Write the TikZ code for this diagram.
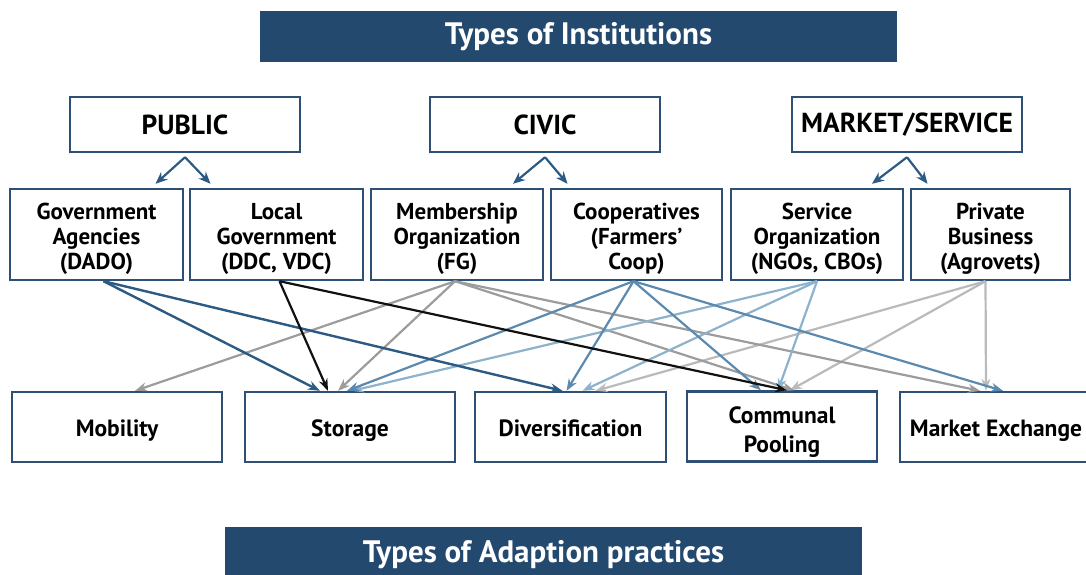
\documentclass[tikz,border=0pt]{standalone}
\usepackage{fontspec}
\setmainfont{PT Sans}
\usetikzlibrary{arrows.meta}
\definecolor{navy}{HTML}{24496E}
\definecolor{boxline}{HTML}{2E5075}
\definecolor{cdark}{HTML}{2C5A82}
\definecolor{cmid}{HTML}{5B8AAE}
\definecolor{clight}{HTML}{8DB2CC}
\definecolor{cgray}{HTML}{9C9C9C}
\definecolor{clgray}{HTML}{BABABA}
\definecolor{cblack}{HTML}{111111}
\begin{document}
\begin{tikzpicture}[x=1pt,y=-1pt,
  banner/.style={fill=navy, draw=none, text=white, font=\fontsize{31}{34}\selectfont\bfseries,
    minimum width=637pt, minimum height=51pt, inner sep=0pt},
  catbox/.style={draw=boxline, line width=2.4pt, fill=white, font=\fontsize{27.5}{30}\selectfont\bfseries,
    minimum width=230pt, minimum height=55pt, inner sep=0pt},
  instbox/.style={draw=boxline, line width=2.4pt, fill=white, minimum height=91pt, inner sep=0pt,
    label={[font=\fontsize{23}{25}\selectfont\bfseries, align=center, inner sep=0pt, yshift=-4.5pt]center:#1}},
  practbox/.style={draw=boxline, line width=2.4pt, fill=white, minimum height=70pt, inner sep=0pt,
    label={[font=\fontsize{23.5}{29}\selectfont\bfseries, align=center, inner sep=0pt, yshift=-4pt]center:\strut #1}},
  branch/.style={draw=cdark, line width=2.2pt, -{Stealth[length=12pt,width=10pt]}},
  link/.style={line width=2.2pt, -{Stealth[length=12pt,width=9pt]}},
]
\useasboundingbox (0,0) rectangle (1086,574);

% banners
\node[banner] (top) at (578.5,36.5) {Types of Institutions};
\node[banner, minimum height=56pt] (bot) at (543.5,555) {Types of Adaption practices};

% categories
\node[catbox] (pub) at (185,124.5) {PUBLIC};
\node[catbox] (civ) at (545,124.5) {CIVIC};
\node[catbox] (mkt) at (907,124.5) {MARKET/SERVICE};

% institutions
\node[instbox={Government\\Agencies\\(DADO)}, minimum width=173pt] (gov)  at (96.5,234.5) {};
\node[instbox={Local\\Government\\(DDC, VDC)}, minimum width=173pt] (loc)  at (276.5,234.5) {};
\node[instbox={Membership\\Organization\\(FG)}, minimum width=172pt] (fg)   at (457,234.5) {};
\node[instbox={Cooperatives\\(Farmers’\\Coop)}, minimum width=171pt] (coop) at (636.5,234.5) {};
\node[instbox={Service\\Organization\\(NGOs, CBOs)}, minimum width=172pt] (serv) at (817,234.5) {};
\node[instbox={Private\\Business\\(Agrovets)}, minimum width=159pt] (priv) at (990.5,234.5) {};

% practices
\node[practbox={Mobility}, minimum width=210pt] (mob)  at (117,427) {};
\node[practbox={Storage}, minimum width=210pt] (stor) at (350,427) {};
\node[practbox={Diversification}, minimum width=191pt] (div) at (570.5,427) {};
\node[practbox={Communal\\Pooling}, minimum width=190pt] (com) at (782,426.5) {};
\node[practbox={Market Exchange}, minimum width=192pt] (me) at (996,427) {};

% branch arrows
\coordinate (pa) at ([yshift=-4pt]pub.south);
\coordinate (ca) at ([yshift=-4pt]civ.south);
\coordinate (ma) at ([yshift=-4pt]mkt.south);
\draw[branch] (pa) -- ([xshift=59pt,yshift=4pt]gov.north);
\draw[branch] (pa) -- ([xshift=-66pt,yshift=4pt]loc.north);
\draw[branch] (ca) -- ([xshift=56pt,yshift=4pt]fg.north);
\draw[branch] (ca) -- ([xshift=-69pt,yshift=4pt]coop.north);
\draw[branch] (ma) -- ([xshift=55pt,yshift=4pt]serv.north);
\draw[branch] (ma) -- ([xshift=-63pt,yshift=4pt]priv.north);

% private business (light gray)
\draw[link, clgray] ([xshift=-5pt]priv.south) -- ([xshift=-10pt]me.north);
\draw[link, clgray] ([xshift=-5pt]priv.south) -- ([xshift=8pt]com.north);
\draw[link, clgray] ([xshift=-5pt]priv.south) -- ([xshift=25pt]div.north);

% membership organization (gray)
\draw[link, cgray] ([xshift=-2pt]fg.south) -- ([xshift=18pt]mob.north);
\draw[link, cgray] ([xshift=-2pt]fg.south) -- ([xshift=-12pt]stor.north);
\draw[link, cgray] ([xshift=-2pt]fg.south) -- ([xshift=12pt]com.north);
\draw[link, cgray] ([xshift=-2pt]fg.south) -- ([xshift=-16pt]me.north);

% service organization (light blue)
\draw[link, clight] (serv.south) -- ([xshift=2pt]stor.north);
\draw[link, clight] (serv.south) -- ([xshift=12pt]div.north);
\draw[link, clight] (serv.south) -- ([xshift=-4pt]com.north);

% cooperatives (blue)
\draw[link, cmid] ([xshift=-3pt]coop.south) -- ([xshift=-3pt]stor.north);
\draw[link, cmid] ([xshift=-3pt]coop.south) -- ([xshift=-4pt]div.north);
\draw[link, cmid] ([xshift=-3pt]coop.south) -- ([xshift=-21pt]com.north);
\draw[link, cmid] ([xshift=-3pt]coop.south) -- ([xshift=7pt]me.north);

% government agencies (dark blue)
\draw[link, cdark, line width=2.4pt] ([xshift=7pt]gov.south) -- ([xshift=-30pt]stor.north);
\draw[link, cdark, line width=2.4pt] ([xshift=7pt]gov.south) -- ([xshift=-8pt]div.north);

% local government (black)
\draw[link, cblack] ([xshift=3pt]loc.south) -- ([xshift=-22pt]stor.north);
\draw[link, cblack] ([xshift=3pt]loc.south) -- ([xshift=5pt]com.north);
\end{tikzpicture}
\end{document}
